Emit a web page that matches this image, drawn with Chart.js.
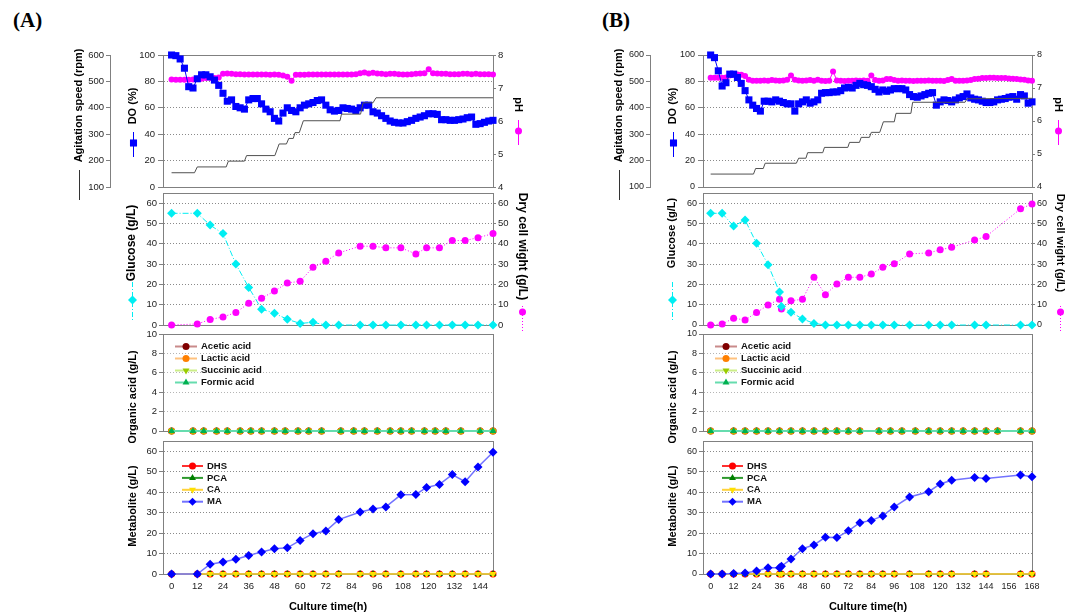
<!DOCTYPE html>
<html>
<head>
<meta charset="utf-8">
<script src="https://cdn.jsdelivr.net/npm/chart.js@4.4.1/dist/chart.umd.min.js"></script>
<style>
  body { margin: 0; background: #fff; width: 1072px; height: 612px; position: relative; overflow: hidden; }
  canvas { position: absolute; }
  .tag { position: absolute; font: bold 21px "Liberation Serif", "Times New Roman", serif; color: #000; }
</style>
</head>
<body>
<div class="tag" style="left:13px;top:8px">(A)</div>
<div class="tag" style="left:602px;top:8px">(B)</div>

<canvas id="a1" width="540" height="162" style="left:0;top:40px"></canvas>
<canvas id="a2" width="540" height="158" style="left:0;top:180px"></canvas>
<canvas id="a3" width="540" height="121" style="left:0;top:322px"></canvas>
<canvas id="a4" width="540" height="183" style="left:0;top:429px"></canvas>
<canvas id="b1" width="532" height="162" style="left:540px;top:40px"></canvas>
<canvas id="b2" width="532" height="158" style="left:540px;top:180px"></canvas>
<canvas id="b3" width="532" height="121" style="left:540px;top:322px"></canvas>
<canvas id="b4" width="532" height="183" style="left:540px;top:429px"></canvas>

<script>
// ---- data (A) ----
const probeTimeA = [0,2,4,6,8,10,12,14,16,18,20,22,24,26,28,30,32,34,36,38,40,42,44,46,48,50,52,54,56,58,60,62,64,66,68,70,72,74,76,78,80,82,84,86,88,90,92,94,96,98,100,102,104,106,108,110,112,114,116,118,120,122,124,126,128,130,132,134,136,138,140,142,144,146,148,150];
const doA = [100,99.5,97,90,76,75,82,85,85,83.5,81,77,71,65,66,61,60,59,66,67,67,63,59,57,52,50,56,60,58,57,60,62,63,64,65.5,66,62,58.5,57.5,58,60,59.5,59,58,60,62,62,57,56,54,52,50,49,48.5,48.5,49.5,50.5,52,53,54,55.5,55.5,55,51,51,50.5,50.5,51,51.5,52.5,53,47.5,48,49,50,50.5];
const phA = [7.26,7.25,7.25,7.25,7.25,7.26,7.27,7.28,7.3,7.3,7.3,7.32,7.43,7.44,7.43,7.42,7.42,7.41,7.41,7.41,7.41,7.41,7.41,7.4,7.41,7.4,7.38,7.34,7.22,7.4,7.4,7.4,7.41,7.41,7.41,7.41,7.41,7.41,7.41,7.41,7.41,7.41,7.41,7.42,7.45,7.47,7.44,7.46,7.44,7.43,7.42,7.43,7.43,7.42,7.41,7.41,7.42,7.43,7.44,7.45,7.57,7.45,7.44,7.43,7.43,7.42,7.42,7.42,7.43,7.43,7.42,7.43,7.42,7.42,7.42,7.41];
const agTimeA = [0,10.7,12,25.5,26.5,34,35,48.2,50.2,53.6,54.7,56.8,57.6,59.6,61.5,78.6,79.3,88.2,89.4,94,95.4,150];
const agSpeedA = [154,154,176,176,198,198,219,219,263,263,284,284,306,306,351,351,376,376,419,419,438,438];
const sampleTimeA = [0,12,18,24,30,36,42,48,54,60,66,72,78,88,94,100,107,114,119,125,131,137,143,150];
const glucoseA = [55,55,49.2,45,30,18.5,7.8,5.8,2.8,0.8,1.3,0,0,0,0,0,0,0,0,0,0,0,0,0];
const dcwA = [0,0.5,2.7,4,6.1,10.7,13.2,16.7,20.7,21.5,28.4,31.4,35.5,38.8,38.8,38,38,35,38,38,41.6,41.6,43,45];
const acidTimeA = [0,10,15,21,26,32,37,42,48,53,59,64,70,79,85,90,96,102,107,112,118,123,128,135,144,150];
const acidsA = [0,0,0,0,0,0,0,0,0,0,0,0,0,0,0,0,0,0,0,0,0,0,0,0,0,0];
const maA = [0,0,4.8,5.9,7.2,9,10.8,12.3,12.8,16.4,19.7,21,26.6,30.3,31.8,32.8,38.7,38.9,42.3,43.8,48.6,45.1,52.3,59.5];
const otherMetA = [0,0,0,0,0,0,0,0,0,0,0,0,0,0,0,0,0,0,0,0,0,0,0,0];

// ---- data (B) ----
const probeTimeB = [0,2,4,6,8,10,12,14,16,18,20,22,24,26,28,30,32,34,36,38,40,42,44,46,48,50,52,54,56,58,60,62,64,66,68,70,72,74,76,78,80,82,84,86,88,90,92,94,96,98,100,102,104,106,108,110,112,114,116,118,120,122,124,126,128,130,132,134,136,138,140,142,144,146,148,150,152,154,156,158,160,162,164,166,168];
const doB = [100,98,88,76.5,79,85.5,85.5,83,78.5,73,66,62,59.5,57.5,65,65,64.5,66,65,64,63,63,57.5,63,64.5,66,63.5,64.5,66,71,71.5,71.5,72,72,73,75,75.5,75,77,78.5,77.5,77,76,74,72,73.5,72.5,73.5,74.5,74.5,74.5,73.5,70,68.5,68,69,70,71,71.5,62,64.5,66,65.5,64.5,66,67.5,68.5,70.5,67.5,66.5,66,65,64,64,64.5,66,66.5,67,68,68.5,66.5,70,69,63.5,64.5];
const phB = [7.31,7.31,7.31,7.31,7.32,7.38,7.4,7.41,7.4,7.36,7.25,7.22,7.22,7.22,7.23,7.22,7.24,7.23,7.22,7.23,7.25,7.38,7.25,7.23,7.22,7.23,7.24,7.22,7.25,7.22,7.21,7.22,7.5,7.23,7.22,7.21,7.22,7.22,7.23,7.22,7.23,7.22,7.38,7.24,7.22,7.23,7.27,7.27,7.24,7.22,7.23,7.22,7.22,7.21,7.22,7.22,7.22,7.23,7.22,7.22,7.22,7.21,7.24,7.27,7.22,7.22,7.22,7.23,7.24,7.27,7.28,7.3,7.3,7.31,7.31,7.3,7.3,7.3,7.29,7.28,7.27,7.26,7.25,7.23,7.22];
const agTimeB = [0,22.4,23.5,27.5,28.5,44.8,46,49.8,50.7,58.6,59.5,71.7,72.6,77.8,78.7,83,84,88.4,90.3,96,96.9,104.7,105.6,133,134,168];
const agSpeedB = [149,149,170,170,190,190,209,209,230,230,250,250,269,269,288,288,307,307,347,347,379,379,421,421,434,436];
const sampleTimeB = [0,6,12,18,24,30,36,37,42,48,54,60,66,72,78,84,90,96,104,114,120,126,138,144,162,168];
const glucoseB = [55,55,48.7,51.7,40.2,29.7,16.2,9.1,6.3,3,0.8,0,0,0,0,0,0,0,0,0,0,0,0,0,0,0];
const dcwB = [0,0.5,3.3,2.5,6.1,9.8,12.7,7.9,11.9,12.7,23.5,14.9,20.2,23.5,23.5,25.1,28.4,30.1,35,35.5,37,38.3,41.8,43.6,57.2,59.6];
const acidTimeB = [0,12,18,24,30,36,42,48,54,60,66,72,78,88,94,100,107,114,120,126,132,138,144,150,162,168];
const acidsB = [0,0,0,0,0,0,0,0,0,0,0,0,0,0,0,0,0,0,0,0,0,0,0,0,0,0];
const maB = [0,0,0.2,0.5,1.5,3,3,3.8,7.3,12.4,14.2,18,17.8,21.1,25.1,26.2,28.4,32.8,37.6,40.2,44,45.8,47.2,46.7,48.4,47.5];
const otherMetB = [0,0,0,0,0,0,0,0,0,0,0,0,0,0,0,0,0,0,0,0,0,0,0,0,0,0];

// ---- tick labels ----
const doTicks = [0,20,40,60,80,100];
const agTicks = [100,200,300,400,500,600];
const phTicks = [4,5,6,7,8];
const gTicks = [0,10,20,30,40,50,60];
const acidTicks = [0,2,4,6,8,10];
const timeTicksA = [0,12,24,36,48,60,72,84,96,108,120,132,144];
const timeTicksB = [0,12,24,36,48,60,72,84,96,108,120,132,144,156,168];

const FONT = '"Liberation Sans", Arial, sans-serif';
Chart.defaults.font.family = FONT;

function drawMarker(ctx, style, x, y, r, color, rot) {
  ctx.save();
  ctx.translate(x, y);
  ctx.rotate((rot || 0) * Math.PI / 180);
  ctx.beginPath();
  if (style === 'rect') {
    const s = r * Math.SQRT1_2;
    ctx.rect(-s, -s, 2 * s, 2 * s);
  } else if (style === 'rectRot') {
    ctx.moveTo(0, -r); ctx.lineTo(r, 0); ctx.lineTo(0, r); ctx.lineTo(-r, 0);
  } else if (style === 'triangle') {
    ctx.moveTo(0, -r); ctx.lineTo(r * 0.866, r * 0.5); ctx.lineTo(-r * 0.866, r * 0.5);
  } else {
    ctx.arc(0, 0, r, 0, Math.PI * 2);
  }
  ctx.closePath();
  ctx.fillStyle = color;
  ctx.fill();
  ctx.restore();
}

// grey box round the plot area
const frameBox = {
  id: 'frameBox',
  beforeDatasetsDraw(chart) {
    const {ctx, chartArea: {left, top, width, height}} = chart;
    ctx.save();
    ctx.strokeStyle = '#808080';
    ctx.lineWidth = 1;
    ctx.strokeRect(Math.round(left) + 0.5, Math.round(top) + 0.5, Math.round(width), Math.round(height));
    ctx.restore();
  }
};

// axis titles with their little series keys under them
const sideText = {
  id: 'sideText',
  afterDraw(chart, args, opts) {
    const ctx = chart.ctx;
    (opts.items || []).forEach(it => {
      ctx.save();
      ctx.translate(it.x, it.y);
      ctx.rotate((it.rot || 0) * Math.PI / 180);
      ctx.font = 'bold ' + (it.size || 11) + 'px ' + FONT;
      ctx.fillStyle = '#000';
      ctx.textAlign = 'center';
      ctx.textBaseline = 'middle';
      ctx.fillText(it.text, 0, 0);
      ctx.restore();
    });
    (opts.keys || []).forEach(k => {
      ctx.save();
      ctx.strokeStyle = k.color;
      ctx.lineWidth = 1;
      ctx.setLineDash(k.dash || []);
      ctx.beginPath();
      ctx.moveTo(k.x + 0.5, k.y1);
      ctx.lineTo(k.x + 0.5, k.y2);
      ctx.stroke();
      ctx.restore();
      if (k.marker) drawMarker(ctx, k.marker, k.x + 0.5, k.my, k.r, k.color, 0);
    });
  }
};

// legend inside the plot, built from the datasets
const boxLegend = {
  id: 'boxLegend',
  afterDraw(chart, args, opts) {
    if (!opts.show) return;
    const ctx = chart.ctx;
    chart.data.datasets.forEach((ds, i) => {
      const y = opts.y + i * opts.step;
      ctx.save();
      ctx.strokeStyle = ds.borderColor;
      ctx.lineWidth = 2;
      ctx.beginPath();
      ctx.moveTo(opts.x, y);
      ctx.lineTo(opts.x + opts.w, y);
      ctx.stroke();
      ctx.restore();
      drawMarker(ctx, ds.pointStyle, opts.x + opts.w / 2, y, Math.min(ds.pointRadius, 4), ds.pointBackgroundColor, ds.pointRotation);
      ctx.save();
      ctx.font = 'bold 9.5px ' + FONT;
      ctx.fillStyle = '#111';
      ctx.textAlign = 'left';
      ctx.textBaseline = 'middle';
      ctx.fillText(ds.label, opts.x + opts.w + 4, y);
      ctx.restore();
    });
  }
};

function series(label, xs, ys, axis, color, lineColor, style, radius, extra) {
  return Object.assign({
    label: label,
    yAxisID: axis,
    data: xs.map((x, i) => ({x: x, y: ys[i]})),
    borderColor: lineColor,
    borderWidth: 1,
    pointStyle: style,
    pointRadius: radius,
    pointBackgroundColor: color,
    pointBorderColor: color,
    pointBorderWidth: 0,
    pointRotation: 0,
    clip: false
  }, extra || {});
}

function leftAxis(min, max, vals, width, size, gridColor, weight, tl, pad) {
  return {
    position: 'left', min: min, max: max, weight: weight,
    afterBuildTicks: s => { s.ticks = vals.map(v => ({value: v})); },
    afterFit: s => { s.width = width; },
    grid: { drawOnChartArea: !!gridColor, color: gridColor || '#999', tickColor: '#808080', tickLength: tl },
    border: { color: '#808080', dash: [1, 2] },
    ticks: { padding: pad, autoSkip: false, color: '#222', font: {size: size} }
  };
}

function rightAxis(min, max, vals, size) {
  return {
    position: 'right', min: min, max: max,
    afterBuildTicks: s => { s.ticks = vals.map(v => ({value: v})); },
    afterFit: s => { s.width = 30; },
    grid: { drawOnChartArea: false, tickColor: '#808080', tickLength: 3 },
    border: { color: '#808080' },
    ticks: { padding: 2, autoSkip: false, color: '#222', font: {size: size} }
  };
}

function xAxis(max, vals, show, size) {
  return {
    type: 'linear', min: -4, max: max, display: show,
    afterBuildTicks: s => { s.ticks = vals.map(v => ({value: v})); },
    afterFit: s => { s.height = show ? 38 : 0; },
    grid: { display: false, drawTicks: false },
    border: { display: false },
    ticks: { padding: 7, color: '#222', maxRotation: 0, autoSkip: false, font: {size: size} }
  };
}

function panel(id, cfg) {
  return new Chart(document.getElementById(id), {
    type: 'line',
    data: { datasets: cfg.datasets },
    options: {
      responsive: false,
      animation: false,
      layout: { padding: cfg.padding },
      scales: cfg.scales,
      plugins: {
        legend: { display: false },
        tooltip: { enabled: false },
        sideText: cfg.sideText,
        boxLegend: cfg.legend || { show: false }
      }
    },
    plugins: [frameBox, sideText, boxLegend]
  });
}

function buildColumn(p, d) {
  // DO / pH / agitation
  panel(p.ids[0], {
    padding: {left: 60, right: p.padR - 30, top: 15, bottom: 15},
    datasets: [
      series('Agitation speed', d.agTime, d.agSpeed, 'yAg', '#505050', '#505050', 'circle', 0, {order: 0}),
      series('DO', d.probeTime, d.dox, 'yDO', '#0000ff', '#0000ff', 'rect', 5, {order: 1}),
      series('pH', d.probeTime, d.ph, 'yPH', '#ff00ff', '#ff00ff', 'circle', 3, {order: 2})
    ],
    scales: {
      x: xAxis(d.xMax, d.xTicks, false, p.tick),
      yDO: leftAxis(0, 100, doTicks, 53, p.tick, '#8a8a8a', 0, 5, 3),
      yAg: leftAxis(100, 600, agTicks, 50, p.tick, null, 1, 4, 2),
      yPH: rightAxis(4, 8, phTicks, p.tick)
    },
    sideText: {
      items: [
        {text: 'Agitation speed (rpm)', x: 79, y: 65.5, rot: -90},
        {text: 'DO (%)', x: 133, y: 66, rot: -90},
        {text: 'pH', x: 518, y: 64.5, rot: 90}
      ],
      keys: [
        {x: 79, y1: 130, y2: 160, color: '#333'},
        {x: 133, y1: 92, y2: 117, color: '#0000ff', marker: 'rect', my: 103, r: 5},
        {x: 518, y1: 80, y2: 105, color: '#ff00ff', marker: 'circle', my: 91, r: 3.5}
      ]
    }
  });

  // glucose / dry cell weight
  panel(p.ids[1], {
    padding: {left: 110, right: p.padR - 30, top: 13, bottom: 13},
    datasets: [
      series('Glucose', d.sampleTime, d.glucose, 'yG', '#00eef2', '#00eef2', 'rectRot', 4.5, {order: 0, borderDash: [6, 2, 1, 2]}),
      series('Dry cell wight', d.sampleTime, d.dcw, 'yD', '#ff00ff', '#ff00ff', 'circle', 3.5, {order: 1, borderDash: [1, 2]})
    ],
    scales: {
      x: xAxis(d.xMax, d.xTicks, false, p.tick),
      yG: leftAxis(0, 65, gTicks, 53, p.tick, '#8a8a8a', 0, 4, 2),
      yD: rightAxis(0, 65, gTicks, p.tick)
    },
    sideText: {
      items: [
        {text: 'Glucose (g/L)', x: 132, y: p.gluY, rot: -90, size: p.gluSize},
        {text: 'Dry cell wight (g/L)', x: p.dcwX, y: p.dcwY, rot: 90, size: p.dcwSize}
      ],
      keys: [
        {x: 132, y1: 102, y2: 142, color: '#00eef2', dash: [5, 2, 1, 2], marker: 'rectRot', my: 120, r: 4.5},
        {x: p.dcwX, y1: p.dcwK - 6, y2: p.dcwK + 20, color: '#ff00ff', dash: [1, 2], marker: 'circle', my: p.dcwK, r: 3.5}
      ]
    }
  });

  // organic acids
  panel(p.ids[2], {
    padding: {left: 110, right: p.padR, top: 12, bottom: 12},
    datasets: [
      series('Acetic acid', d.acidTime, d.acids, 'yA', '#800000', '#c98a8a', 'circle', 3.5, {order: 4, borderWidth: 2}),
      series('Lactic acid', d.acidTime, d.acids, 'yA', '#ff8000', '#ffc27f', 'circle', 3.5, {order: 3, borderWidth: 2}),
      series('Succinic acid', d.acidTime, d.acids, 'yA', '#99cc00', '#ccee88', 'triangle', 4, {order: 2, borderWidth: 2, pointRotation: 180}),
      series('Formic acid', d.acidTime, d.acids, 'yA', '#00b050', '#66dcae', 'triangle', 4, {order: 1, borderWidth: 2})
    ],
    scales: {
      x: xAxis(d.xMax, d.xTicks, false, p.tick),
      yA: leftAxis(0, 10, acidTicks, 53, p.tick, '#b5b5b5', 0, 4, 2)
    },
    legend: {show: true, x: 175, y: 24.5, w: 22, step: 12},
    sideText: {
      items: [{text: 'Organic acid (g/L)', x: 133, y: 75, rot: -90}],
      keys: []
    }
  });

  // metabolites
  panel(p.ids[3], {
    padding: {left: 110, right: p.padR, top: 12, bottom: 0},
    datasets: [
      series('DHS', d.sampleTime, d.otherMet, 'yM', '#ff0000', '#ff3030', 'circle', 3.5, {order: 4}),
      series('PCA', d.sampleTime, d.otherMet, 'yM', '#008000', '#2e9a2e', 'triangle', 4, {order: 3}),
      series('CA', d.sampleTime, d.otherMet, 'yM', '#ffe000', '#ffd23c', 'triangle', 4, {order: 2, borderWidth: 1.5, pointRotation: 180}),
      series('MA', d.sampleTime, d.ma, 'yM', '#0000ff', '#7272ff', 'rectRot', 4.5, {order: 1, borderWidth: 1.5})
    ],
    scales: {
      x: xAxis(d.xMax, d.xTicks, true, p.tick),
      yM: leftAxis(0, 65, gTicks, 53, p.tick, '#8a8a8a', 0, 4, 2)
    },
    legend: {show: true, x: 182, y: 37, w: 21, step: 11.9},
    sideText: {
      items: [
        {text: 'Metabolite (g/L)', x: 133, y: 77, rot: -90},
        {text: 'Culture time(h)', x: 328, y: 178, rot: 0}
      ],
      keys: []
    }
  });
}

buildColumn(
  {ids: ['a1', 'a2', 'a3', 'a4'], padR: 47, tick: 9.5, gluY: 63, gluSize: 12, dcwX: 522, dcwY: 66.5, dcwSize: 12, dcwK: 132},
  {xMax: 150, xTicks: timeTicksA, probeTime: probeTimeA, dox: doA, ph: phA, agTime: agTimeA, agSpeed: agSpeedA,
   sampleTime: sampleTimeA, glucose: glucoseA, dcw: dcwA, acidTime: acidTimeA, acids: acidsA, ma: maA, otherMet: otherMetA}
);
buildColumn(
  {ids: ['b1', 'b2', 'b3', 'b4'], padR: 40, tick: 9, gluY: 53, gluSize: 11, dcwX: 520, dcwY: 63, dcwSize: 11, dcwK: 132},
  {xMax: 168, xTicks: timeTicksB, probeTime: probeTimeB, dox: doB, ph: phB, agTime: agTimeB, agSpeed: agSpeedB,
   sampleTime: sampleTimeB, glucose: glucoseB, dcw: dcwB, acidTime: acidTimeB, acids: acidsB, ma: maB, otherMet: otherMetB}
);
</script>
</body>
</html>
